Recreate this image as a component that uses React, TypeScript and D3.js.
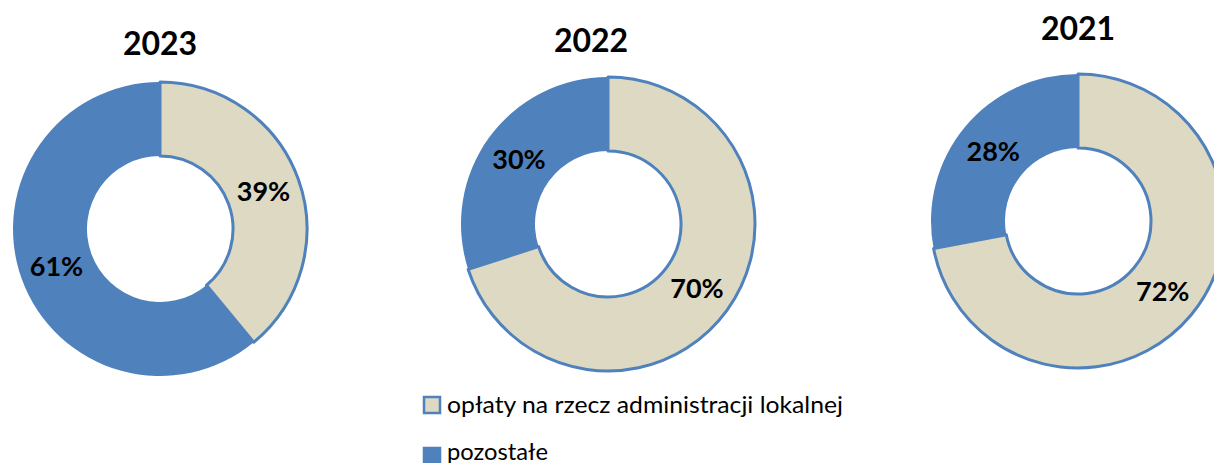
import React, { useEffect, useRef } from 'react'
import * as d3 from 'd3'

// share of "opłaty..." (first) and "pozostałe" (second) per year
const years = ['2023', '2022', '2021']
const fees = [39, 70, 72]
const others = [61, 30, 28]
const categories = ['opłaty na rzecz administracji lokalnej', 'pozostałe']

const BLUE = '#4F81BD'
const TAN = '#DDD9C3'

// layout per donut (center, title anchor)
const donuts = [
    { cx: 160, cy: 229, tx: 160, ty: 55 },
    { cx: 608, cy: 224, tx: 591, ty: 52 },
    { cx: 1078, cy: 221, tx: 1078, ty: 40 }
]

const W = 1214, H = 463
const R_OUT = 147, R_IN = 73
const FONT = 'Lato, "Liberation Sans", Arial, sans-serif'

export default function App() {
    const ref = useRef<SVGSVGElement>(null)

    useEffect(() => {
        const svg = d3.select(ref.current)
        svg.selectAll('*').remove()

        const pie = d3.pie<number>().sort(null).startAngle(0).endAngle(2 * Math.PI)
        const arc = d3.arc<d3.PieArcDatum<number>>().innerRadius(R_IN).outerRadius(R_OUT)
        const colors = [TAN, BLUE]

        years.forEach((year, i) => {
            const pos = donuts[i]
            const g = svg.append('g').attr('transform', `translate(${pos.cx},${pos.cy})`)
            const arcs = pie([fees[i], others[i]])

            // blue slice first, then tan slice with blue outline on top
            const order = [1, 0]
            order.forEach(k => {
                g.append('path')
                    .attr('d', arc(arcs[k]) as string)
                    .attr('fill', colors[k])
                    .attr('stroke', BLUE)
                    .attr('stroke-width', k === 0 ? 3 : 0)
                    .attr('stroke-linejoin', 'round')
            })

            arcs.forEach(a => {
                const [x, y] = arc.centroid(a)
                g.append('text')
                    .attr('x', x)
                    .attr('y', y)
                    .attr('dy', '0.36em')
                    .attr('text-anchor', 'middle')
                    .style('font-family', FONT)
                    .style('font-weight', 'bold')
                    .style('font-size', '27px')
                    .text(a.data + '%')
            })

            svg.append('text')
                .attr('x', pos.tx)
                .attr('y', pos.ty)
                .attr('text-anchor', 'middle')
                .style('font-family', FONT)
                .style('font-weight', 'bold')
                .style('font-size', '32px')
                .text(year)
        })

        // legend
        const legendWidths = [396, 101]
        const legend = svg.append('g').attr('transform', 'translate(424,397)')
        categories.forEach((c, i) => {
            legend.append('rect')
                .attr('x', 0).attr('y', i * 51)
                .attr('width', 16).attr('height', 16)
                .attr('fill', i === 0 ? TAN : BLUE)
                .attr('stroke', BLUE)
                .attr('stroke-width', 2.5)
            legend.append('text')
                .attr('x', 23)
                .attr('y', 16 + i * 47)
                .attr('textLength', legendWidths[i])
                .attr('lengthAdjust', 'spacingAndGlyphs')
                .style('font-family', FONT)
                .style('font-size', '24px')
                .text(c)
        })
    }, [])

    return <svg ref={ref} width={W} height={H}
                style={{ position: 'absolute', left: 0, top: 0, background: '#fff' }} />
}
